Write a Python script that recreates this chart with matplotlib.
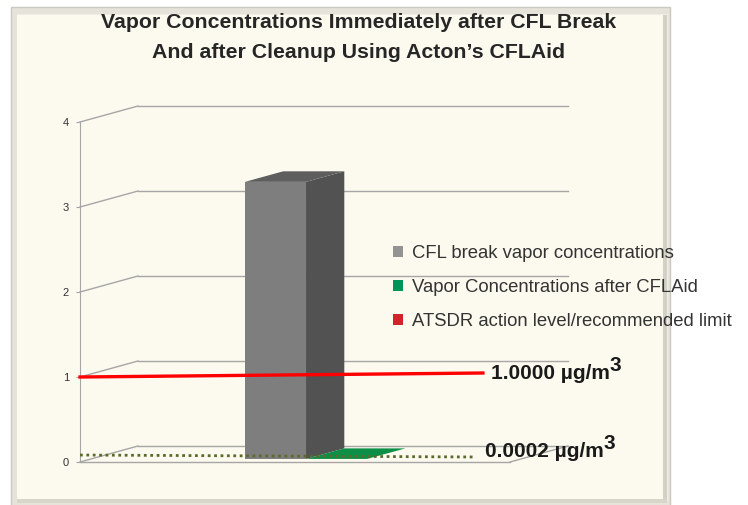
import matplotlib
matplotlib.use("Agg")
import matplotlib.pyplot as plt
from matplotlib.patches import Rectangle, Patch

plt.rcParams['font.family'] = ['Liberation Sans', 'DejaVu Sans']

# data
series_names = ["CFL break vapor concentrations",
                "Vapor Concentrations after CFLAid",
                "ATSDR action level/recommended limit"]
series_colors = ["#939393", "#00935A", "#D2232A"]
cfl_break = [3.26]
after_cflaid = [0.0002]
y_ticks = [0, 1, 2, 3, 4]
# reference lines as drawn on the slide (slightly tilted)
limit_x = [0.0, 0.937]
limit_y = [1.0, 1.047]
after_x = [0.0, 0.916]
after_y = [0.082, 0.059]
limit_label = "1.0000 µg/m"
after_label = "0.0002 µg/m"
title_lines = ["Vapor Concentrations Immediately after CFL Break",
               "And after Cleanup Using Acton\u2019s CFLAid"]

W, H = 748, 505
fig = plt.figure(figsize=(W / 100, H / 100), dpi=100)
fig.patch.set_facecolor("white")


def fr(x, y):
    # pixel (from top-left) -> figure fraction
    return x / W, 1 - y / H


# slide panel with bevel
def panel(x, y, w, h, color, **kw):
    x0, y0 = fr(x, y + h)
    fig.patches.append(Rectangle((x0, y0), w / W, h / H, transform=fig.transFigure,
                                 facecolor=color, zorder=-5, **kw))


panel(11, 7, 659, 502, "#E6E4DA", edgecolor="#C9C9C2", lw=1)
panel(17, 14, 651, 487, "#F1EFE5", edgecolor="none")
panel(17, 15, 646, 484, "#FCF9EE", edgecolor="none")
panel(663, 15, 4, 486, "#D3D1C6", edgecolor="none")
panel(17, 499, 650, 4, "#D8D6CB", edgecolor="none")

# plot area: front plane 80..510 px, 85 px per unit, depth 58 x 16 px
dx = 58 / 430
dy = 16 / 85
ax = fig.add_axes([80 / W, 43 / H, 488 / W, 356 / H])
ax.set_xlim(0, 1 + dx)
ax.set_ylim(0, 4 + dy)
ax.patch.set_alpha(0)
for s in ["top", "right", "bottom"]:
    ax.spines[s].set_visible(False)
ax.spines["left"].set_color("#A6A6A6")
ax.spines["left"].set_bounds(0, 4)
ax.set_xticks([])
ax.set_yticks(y_ticks)
ax.tick_params(axis="y", length=3, color="#A6A6A6", labelsize=8,
               labelcolor="#333333", pad=5)

grid = "#A6A6A6"
for t in y_ticks:
    ax.plot([0, dx], [t, t + dy], color=grid, lw=1, clip_on=False)
    ax.plot([dx, 1 + dx], [t + dy, t + dy], color=grid, lw=1, clip_on=False)
ax.plot([0, 1], [0, 0], color=grid, lw=1, clip_on=False)
ax.plot([1, 1 + dx], [0, dy], color=grid, lw=1, clip_on=False)

# pseudo 3D bars
w = 0.142
f0 = 0.19
bd = 0.66
center = 0.5
faces = [
    (cfl_break[0], center - w, ("#7E7E7E", "#525252", "#5E5E5E")),
    (after_cflaid[0], center, ("#0B8F46", "#07733A", "#0E8F47")),
]
for v, xl, (c_front, c_side, c_top) in faces:
    sx, sy = xl + f0 * dx, f0 * dy
    bx, by = bd * dx, bd * dy
    ax.fill([sx, sx + w, sx + w, sx], [sy, sy, sy + v, sy + v],
            color=c_front, lw=0, zorder=3)
    ax.fill([sx + w, sx + w + bx, sx + w + bx, sx + w],
            [sy, sy + by, sy + by + v, sy + v], color=c_side, lw=0, zorder=3)
    ax.fill([sx, sx + w, sx + w + bx, sx + bx],
            [sy + v, sy + v, sy + v + by, sy + v + by], color=c_top, lw=0, zorder=3)

# limit and after-cleanup lines
ax.plot(limit_x, limit_y, color="#FF0000", lw=2.4, zorder=5, clip_on=False)
ax.plot(after_x, after_y, color="#5C6A2C", lw=2.0, ls=(0, (1, 1.3)),
        zorder=5, clip_on=False)

for lx, ly, lab in [(0.955, 1.04, limit_label), (0.942, 0.12, after_label)]:
    t = ax.text(lx, ly, lab, fontsize=15, fontweight="bold", color="#1A1A1A",
                ha="left", va="center", clip_on=False, zorder=6)
    ax.annotate("3", xy=(1, 0.42), xycoords=t, fontsize=15, fontweight="bold",
                color="#1A1A1A", ha="left", va="bottom", zorder=6)

handles = [Patch(facecolor=c, edgecolor="none") for c in series_colors]
fig.legend(handles, series_names, loc="upper left",
           bbox_to_anchor=fr(393, 245), bbox_transform=fig.transFigure,
           frameon=False, fontsize=13.3, labelcolor="#333333",
           handlelength=0.55, handleheight=0.55, handletextpad=0.5,
           labelspacing=0.92, borderpad=0, borderaxespad=0)

for line, yp in zip(title_lines, [22, 52]):
    tx, ty = fr(359, yp)
    fig.text(tx, ty, line, ha="center", va="center", fontsize=15.3,
             fontweight="bold", color="#262626")

fig.savefig("out.png", dpi=100)
